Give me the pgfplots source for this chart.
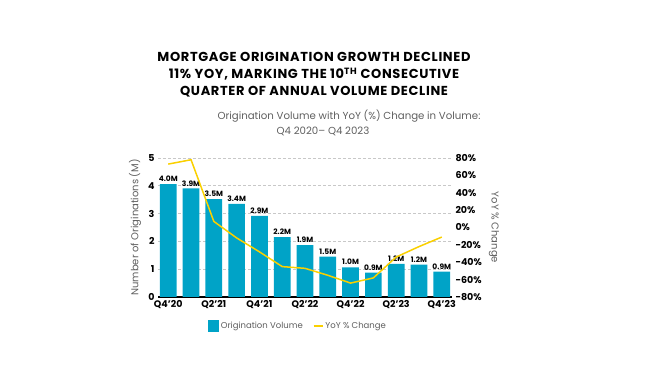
\documentclass[border=0pt]{standalone}
\usepackage{pgfplots}
\pgfplotsset{compat=1.18}
\usepackage{fontspec}
\setmainfont{Poppins}
\definecolor{barblue}{RGB}{0,163,199}
\definecolor{lineyellow}{RGB}{250,208,0}
\definecolor{txtgray}{RGB}{95,95,95}
\definecolor{gridgray}{RGB}{200,200,200}
\begin{document}
\begin{tikzpicture}
\useasboundingbox (0pt,0pt) rectangle (650pt,369pt);
\node[font=\bfseries\fontsize{13}{17}\selectfont\addfontfeature{LetterSpace=5}, align=center] at (314pt,294pt)
  {MORTGAGE ORIGINATION GROWTH DECLINED\\11\% YOY, MARKING THE 10\textsuperscript{TH} CONSECUTIVE\\QUARTER OF ANNUAL VOLUME DECLINE};
\node[font=\fontsize{10.2}{12}\selectfont, text=txtgray] at (349pt,253pt) {Origination Volume with YoY (\%) Change in Volume:};
\node[font=\fontsize{10.2}{12}\selectfont, text=txtgray] at (323pt,238pt) {Q4 2020– Q4 2023};
\begin{axis}[
  at={(158pt,72pt)}, anchor=south west, scale only axis,
  width=294pt, height=139pt,
  xmin=-0.45, xmax=12.45, ymin=0, ymax=5,
  ytick={0,1,2,3,4,5},
  xtick={0,2,4,6,8,10,12},
  xticklabels={Q4'20,Q2'21,Q4'21,Q2'22,Q4'22,Q2'23,Q4'23},
  axis x line*=bottom, axis y line*=left,
  x axis line style={black, line width=1.6pt, -},
  y axis line style={draw=none},
  major tick length=0pt,
  ymajorgrids, grid style={densely dashed, gridgray, line width=0.6pt},
  ticklabel style={font=\bfseries\fontsize{9.5}{11}\selectfont},
  /pgf/number format/assume math mode=true,
  ylabel={Number of Originations (M)},
  ylabel style={font=\fontsize{10}{12}\selectfont, text=txtgray},
  ybar, bar width=16.7pt,
  nodes near coords,
  point meta=explicit symbolic,
  nodes near coords style={font=\bfseries\fontsize{7.5}{9}\selectfont, anchor=south, inner sep=2pt, black},
]
\addplot[fill=barblue, draw=none] table[meta=lab] {
x y lab
0 4.06 4.0M
1 3.91 3.9M
2 3.52 3.5M
3 3.35 3.4M
4 2.92 2.9M
5 2.15 2.2M
6 1.87 1.9M
7 1.45 1.5M
8 1.07 1.0M
9 0.88 0.9M
10 1.19 1.2M
11 1.16 1.2M
12 0.91 0.9M
};
\end{axis}
\begin{axis}[
  at={(158pt,72pt)}, anchor=south west, scale only axis,
  width=294pt, height=139pt,
  xmin=-0.45, xmax=12.45, ymin=-80, ymax=80,
  ytick={-80,-60,...,80},
  yticklabel={\pgfmathprintnumber{\tick}\%},
  axis x line=none, axis y line*=right,
  y axis line style={draw=none},
  major tick length=0pt,
  ticklabel style={font=\bfseries\fontsize{9.5}{11}\selectfont},
  /pgf/number format/assume math mode=true,
  ylabel={YoY \% Change},
  ylabel style={font=\fontsize{10}{12}\selectfont, text=txtgray, rotate=180},
  legend style={draw=none, at={(0.476,-0.21)}, anchor=center, legend columns=2,
    font=\fontsize{8.5}{10}\selectfont, text=txtgray,
    /tikz/every even column/.append style={column sep=8pt}},
  legend image code/.code={},
]
\addlegendimage{legend image code/.code={\fill[barblue] (0pt,-4.5pt) rectangle (10.5pt,6pt);}}
\addlegendentry{Origination Volume}
\addplot[lineyellow, line width=1.5pt, legend image code/.code={\draw[lineyellow, line width=1.5pt] (0pt,0.5pt) -- (9pt,0.5pt);}] coordinates {
(0,73) (1,78) (2,7) (3,-12) (4,-28) (5,-45) (6,-47) (7,-55) (8,-64) (9,-58) (10,-34) (11,-22) (12,-11)
};
\addlegendentry{YoY \% Change}
\end{axis}
\end{tikzpicture}
\end{document}
